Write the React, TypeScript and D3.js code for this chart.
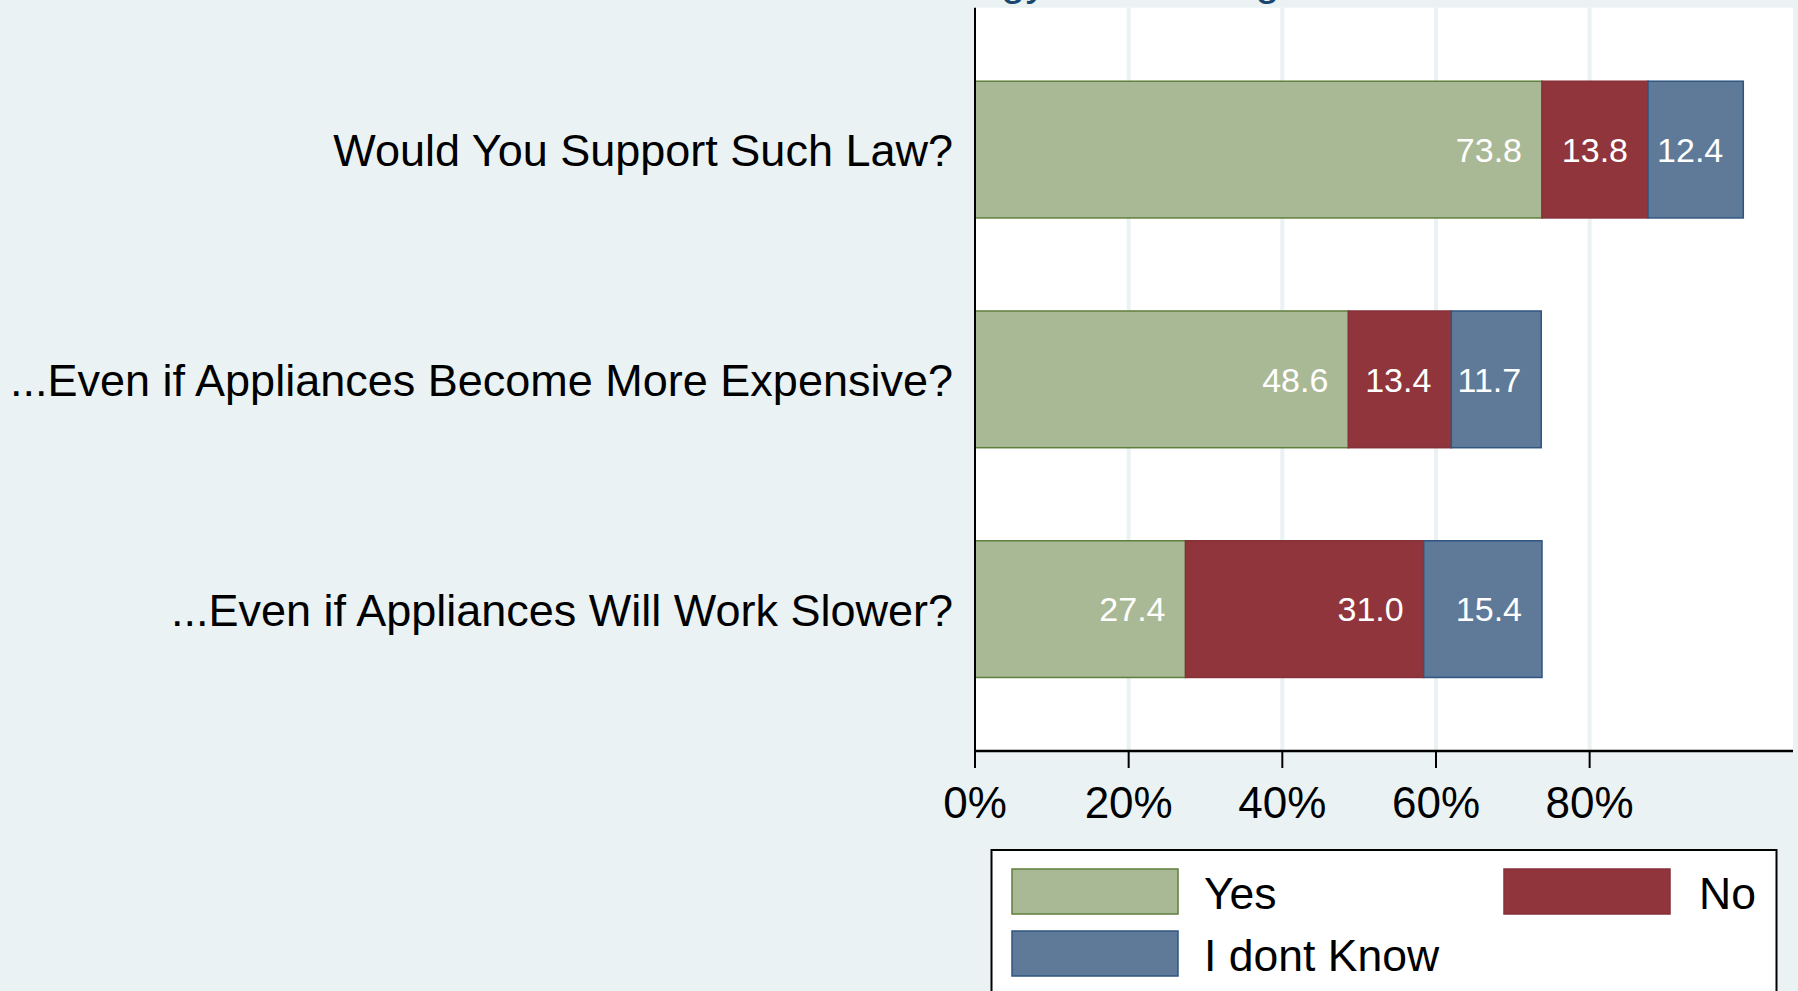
import React from 'react'
import * as d3 from 'd3'

// survey answers, percent of respondents
const categories = [
  'Would You Support Such Law?',
  '...Even if Appliances Become More Expensive?',
  '...Even if Appliances Will Work Slower?',
]
const yesValues = [73.8, 48.6, 27.4]
const noValues = [13.8, 13.4, 31.0]
const dontKnowValues = [12.4, 11.7, 15.4]
const seriesKeys = ['yes', 'no', 'dontKnow']
const seriesLabels = ['Yes', 'No', 'I dont Know']
const tickValues = [0, 20, 40, 60, 80]
const titleText = 'Energy Star Rating'

const WIDTH = 1798
const HEIGHT = 991
const FONT = '"Liberation Sans", Arial, Helvetica, sans-serif'

const fills: Record<string, string> = { yes: '#aab995', no: '#90353b', dontKnow: '#5e7a98' }
const strokes: Record<string, string> = { yes: '#5f7f3c', no: '#86313a', dontKnow: '#2f5680' }

const App = () => {
  const margin = { top: 7.7, right: 5, bottom: 240, left: 975 }
  const plotRight = WIDTH - margin.right
  const plotBottom = HEIGHT - margin.bottom

  const rows = categories.map((name, i) => ({
    name,
    yes: yesValues[i],
    no: noValues[i],
    dontKnow: dontKnowValues[i],
  }))

  const series = d3.stack<any>().keys(seriesKeys)(rows)

  const x = d3.scaleLinear().domain([0, 100]).range([margin.left, 1743.3])

  const y = d3
    .scaleBand()
    .domain(categories)
    .range([margin.top, plotBottom])
    .paddingInner(0.405)
    .paddingOuter(0.32)

  const fmt = d3.format('.1f')

  const legendItems = seriesKeys.map((key, i) => ({
    key,
    label: seriesLabels[i],
    col: i === 1 ? 1 : 0,
    row: i === 2 ? 1 : 0,
  }))

  return (
    <svg
      width={WIDTH}
      height={HEIGHT}
      style={{ position: 'absolute', left: 0, top: 0, fontFamily: FONT }}
    >
      <rect width={WIDTH} height={HEIGHT} fill="#eaf2f3" />

      {/* title, mostly outside the picture as in the original */}
      <text x={908} y={-5} fontSize={44} fill="#1a476f">
        {titleText}
      </text>

      <rect
        x={margin.left}
        y={margin.top}
        width={plotRight - margin.left}
        height={plotBottom - margin.top}
        fill="#ffffff"
      />

      {/* grid */}
      {tickValues
        .filter(t => t > 0)
        .map(t => (
          <line
            key={t}
            x1={x(t)}
            x2={x(t)}
            y1={margin.top}
            y2={plotBottom}
            stroke="#eaf2f3"
            strokeWidth={4}
          />
        ))}

      {/* bars */}
      {series.map(s => (
        <g key={s.key} fill={fills[s.key]} stroke={strokes[s.key]} strokeWidth={1.5}>
          {s.map((d, i) => (
            <rect
              key={i}
              x={x(d[0])}
              y={y(d.data.name)}
              width={x(d[1]) - x(d[0])}
              height={y.bandwidth()}
            />
          ))}
        </g>
      ))}

      {/* value labels */}
      {series.map(s => (
        <g key={s.key} fill="#ffffff" fontSize={34} textAnchor="end">
          {s.map((d, i) => (
            <text key={i} x={x(d[1]) - 20} y={y(d.data.name)! + y.bandwidth() / 2} dy="0.36em">
              {fmt(d[1] - d[0])}
            </text>
          ))}
        </g>
      ))}

      {/* category labels */}
      {categories.map(c => (
        <text
          key={c}
          x={margin.left - 22}
          y={y(c)! + y.bandwidth() / 2}
          dy="0.37em"
          textAnchor="end"
          fontSize={45}
          fill="#000"
        >
          {c}
        </text>
      ))}

      {/* axes */}
      <line x1={margin.left} x2={margin.left} y1={margin.top} y2={plotBottom} stroke="#000" strokeWidth={2} />
      <line x1={margin.left} x2={plotRight} y1={plotBottom} y2={plotBottom} stroke="#000" strokeWidth={2.4} />
      {tickValues.map(t => (
        <g key={t} transform={`translate(${x(t)},${plotBottom})`}>
          <line y1={0} y2={17} stroke="#000" strokeWidth={2} />
          <text y={67} textAnchor="middle" fontSize={44} fill="#000">
            {t}%
          </text>
        </g>
      ))}

      {/* legend */}
      <g transform="translate(991.5,850)">
        <rect x={0} y={0} width={785} height={170} fill="#ffffff" stroke="#000" strokeWidth={2} />
        {legendItems.map(item => (
          <g key={item.key} transform={`translate(${20.5 + item.col * 492},${19 + item.row * 62})`}>
            <rect
              width={166}
              height={45}
              fill={fills[item.key]}
              stroke={strokes[item.key]}
              strokeWidth={1.5}
            />
            <text x={192 + item.col * 3} y={40} fontSize={44.5} fill="#000">
              {item.label}
            </text>
          </g>
        ))}
      </g>
    </svg>
  )
}

export default App
